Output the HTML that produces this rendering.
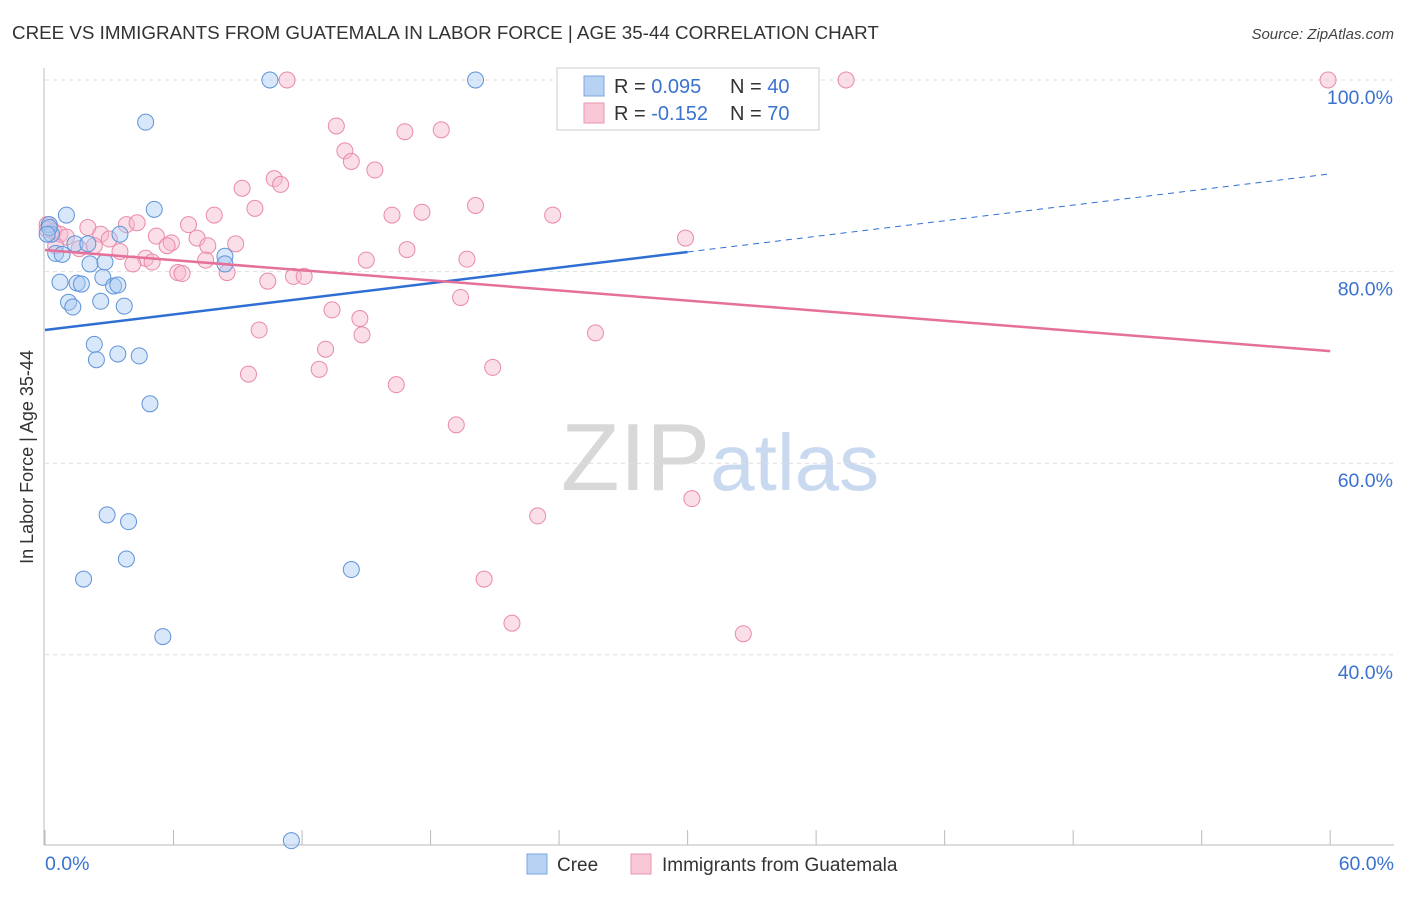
<!DOCTYPE html>
<html><head><meta charset="utf-8"><style>
body{margin:0;background:#fff;font-family:"Liberation Sans",sans-serif}
svg text{font-family:"Liberation Sans",sans-serif}
</style></head><body>
<svg id="chart" width="1406" height="892" xmlns="http://www.w3.org/2000/svg">
<text x="12" y="39" font-size="18.8" fill="#333">CREE VS IMMIGRANTS FROM GUATEMALA IN LABOR FORCE | AGE 35-44 CORRELATION CHART</text>
<text x="1394" y="39" font-size="15" fill="#444" text-anchor="end" font-style="italic">Source: ZipAtlas.com</text>
<text x="720" y="490" font-size="96" text-anchor="middle" fill="#ddd" font-family="Liberation Serif"><tspan fill="#d8d8d8">ZIP</tspan><tspan fill="#c9daf0" font-family="Liberation Sans" font-size="80">atlas</tspan></text>
<text transform="translate(33,457) rotate(-90)" font-size="18" fill="#333" text-anchor="middle">In Labor Force | Age 35-44</text>
<g id="grid"></g><g id="marks"></g>
<g>
<rect x="557" y="68" width="262" height="62" fill="#fff" stroke="#ccc"/>
<rect x="584" y="76" width="20" height="20" fill="#b8d2f4" stroke="#7aa6e0"/>
<rect x="584" y="103" width="20" height="20" fill="#f9c8d6" stroke="#eb96b0"/>
<text x="614" y="93" font-size="20" fill="#333">R = <tspan fill="#3a72d0">0.095</tspan></text>
<text x="730" y="93" font-size="20" fill="#333">N = <tspan fill="#3a72d0">40</tspan></text>
<text x="614" y="120" font-size="20" fill="#333">R = <tspan fill="#3a72d0">-0.152</tspan></text>
<text x="730" y="120" font-size="20" fill="#333">N = <tspan fill="#3a72d0">70</tspan></text>
</g>
<g>
<rect x="527" y="854" width="20" height="20" fill="#b8d2f4" stroke="#7aa6e0"/>
<text x="557" y="871" font-size="19" fill="#333">Cree</text>
<rect x="631" y="854" width="20" height="20" fill="#f9c8d6" stroke="#eb96b0"/>
<text x="662" y="871" font-size="19" fill="#333">Immigrants from Guatemala</text>
</g>
</svg>
<script>
const yTicks=[100,80,60,40];
const yTickLabels=["100.0%","80.0%","60.0%","40.0%"];
const xTickLabels=["0.0%","60.0%"];
const creeX=[10.5,20.1,4.7,1.0,5.1,0.2,0.3,3.5,1.4,2.0,0.5,0.8,8.4,2.1,2.8,8.4,0.7,1.5,1.7,2.7,3.2,3.4,1.1,1.3,2.6,3.7,2.3,2.4,3.4,4.4,4.9,2.9,3.9,3.8,1.8,14.3,5.5,11.5,0.2,0.1];
const creeY=[100,100,95.6,85.9,86.5,84.9,83.9,83.9,82.9,82.9,81.9,81.8,81.6,80.8,81.0,80.8,78.9,78.8,78.7,79.4,78.5,78.6,76.8,76.3,76.9,76.4,72.4,70.8,71.4,71.2,66.2,54.6,53.9,50.0,47.9,48.9,41.9,20.6,84.6,83.9];
const guaX=[11.3,37.4,59.9,13.6,16.8,18.5,14.0,14.3,15.4,9.2,10.7,11.0,9.8,7.9,16.2,17.6,20.1,23.7,29.9,0.1,0.4,0.7,1.0,2.0,2.6,3.0,3.8,4.3,5.2,5.9,6.7,7.1,7.6,8.9,5.7,3.5,4.7,5.0,7.5,8.5,4.1,6.2,6.4,10.4,11.6,12.1,15.0,16.9,19.7,19.4,13.4,14.7,14.8,10.0,13.1,12.8,9.5,16.4,20.9,25.7,19.2,30.2,23.0,20.5,21.8,32.6,1.6,2.3,0.5,0.1];
const guaY=[100,100,100,95.2,94.6,94.8,92.6,91.5,90.6,88.7,89.7,89.1,86.6,85.9,85.9,86.2,86.9,85.9,83.5,84.9,84.2,83.9,83.6,84.6,83.9,83.4,84.9,85.1,83.7,83.0,84.9,83.5,82.7,82.9,82.7,82.1,81.4,81.0,81.2,79.9,80.8,79.9,79.8,79.0,79.5,79.5,81.2,82.3,81.3,77.3,76.0,75.1,73.4,73.9,71.9,69.8,69.3,68.2,70.0,73.6,64.0,56.3,54.5,47.9,43.3,42.2,82.4,82.7,82.7,84.4];
const creeTrend=[73.9,90.2];
const guaTrend=[82.25,71.7];
const sx=v=>45+v*21.42, sy=v=>80+(100-v)*9.58;
const NS="http://www.w3.org/2000/svg";
const grid=document.getElementById('grid'), marks=document.getElementById('marks');
function mk(tag,attrs,parent){const e=document.createElementNS(NS,tag);for(const k in attrs)e.setAttribute(k,attrs[k]);parent.appendChild(e);return e;}
yTicks.forEach((t,i)=>{
 const l=mk('line',{x1:45,x2:1394,y1:sy(t),y2:sy(t),stroke:'#ddd','stroke-dasharray':'4,4'},grid);
 
 
 const tx=mk('text',{x:1393,y:sy(t)+24,'font-size':19.5,fill:'#3a72d0','text-anchor':'end'},grid);
 tx.textContent=yTickLabels[i];
 
 
});
mk('line',{x1:44,x2:44,y1:68,y2:845,stroke:'#bbb'},grid);
mk('line',{x1:44,x2:1394,y1:845,y2:845,stroke:'#bbb'},grid);
for(let i=0;i<=10;i++){const x=sx(i*6);mk('line',{x1:x,x2:x,y1:830,y2:845,stroke:'#bbb'},grid);}
[[0,'start',45],[1,'end',1394]].forEach(([i,a,x])=>{
 const tx=mk('text',{x:x,y:870,'font-size':19.5,fill:'#3a72d0','text-anchor':a},grid);
 tx.textContent=xTickLabels[i];
 
 
});
function dots(xs,ys,fill,stroke,name){xs.forEach((x,i)=>{
 const c=mk('circle',{cx:sx(x),cy:sy(ys[i]),r:8,fill:fill,'fill-opacity':0.45,stroke:stroke,'stroke-width':1},marks);
 
 
});}
dots(guaX,guaY,'#f7b8cb','#e98aa8','guatemala-point');
dots(creeX,creeY,'#a9c9f2','#5f93d8','cree-point');
const f=(tr,x)=>tr[0]+(tr[1]-tr[0])*x/60;
let l=mk('line',{x1:sx(0),y1:sy(f(creeTrend,0)),x2:sx(30),y2:sy(f(creeTrend,30)),stroke:'#2f6fd4','stroke-width':2.5},marks);

l=mk('line',{x1:sx(30),y1:sy(f(creeTrend,30)),x2:sx(60),y2:sy(f(creeTrend,60)),stroke:'#2f6fd4','stroke-width':1,'stroke-dasharray':'6,5'},marks);

l=mk('line',{x1:sx(0),y1:sy(f(guaTrend,0)),x2:sx(60),y2:sy(f(guaTrend,60)),stroke:'#e5709a','stroke-width':2.5},marks);

</script>
</body></html>
